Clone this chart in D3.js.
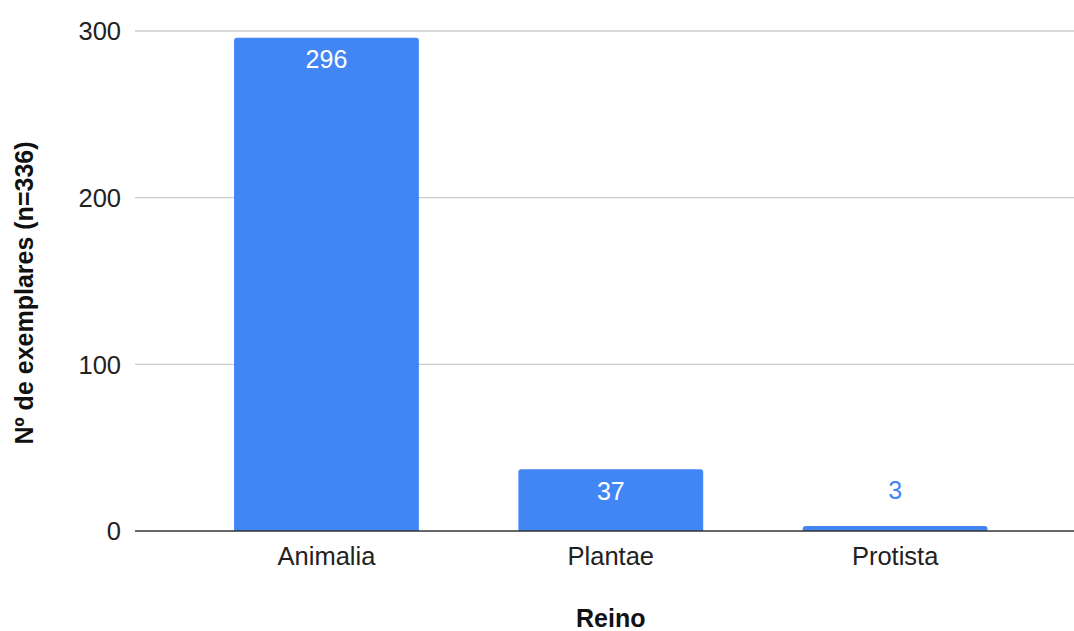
<!DOCTYPE html>
<html>
<head>
<meta charset="utf-8">
<script src="https://cdn.jsdelivr.net/npm/d3@7"></script>
<style>
  html, body { margin: 0; padding: 0; background: #fff; }
  svg { display: block; font-family: "Liberation Sans", Arial, sans-serif; }
</style>
</head>
<body>
<svg id="chart" width="1074" height="631"></svg>
<script>
// Specimens per kingdom
const categories = ["Animalia", "Plantae", "Protista"];
const counts = [296, 37, 3];
const yTicks = [0, 100, 200, 300];
const xTitle = "Reino";
const yTitle = "Nº de exemplares (n=336)";

const svg = d3.select("#chart");
const plot = { left: 135, right: 1074, top: 31, bottom: 531 };
const barColor = "#4285F4";

const x = d3.scaleBand()
  .domain(categories)
  .range([184.3, 1037.3])
  .paddingInner(0.35)
  .paddingOuter(0.175);

const y = d3.scaleLinear()
  .domain([0, 300])
  .range([plot.bottom, plot.top]);

// Horizontal gridlines
svg.append("g")
  .selectAll("line")
  .data(yTicks.filter(d => d !== 0))
  .join("line")
  .attr("x1", plot.left).attr("x2", plot.right)
  .attr("y1", d => y(d)).attr("y2", d => y(d))
  .attr("stroke", "#cccccc").attr("stroke-width", 1.3);

// Y tick labels
svg.append("g")
  .selectAll("text")
  .data(yTicks)
  .join("text")
  .attr("x", 121)
  .attr("y", d => y(d))
  .attr("dy", "0.36em")
  .attr("text-anchor", "end")
  .attr("font-size", 25.5)
  .attr("fill", "#222")
  .text(d => d);

// Bars with slightly rounded top corners
const r = 3;
function barPath(d, i) {
  const x0 = x(categories[i]), w = x.bandwidth();
  const yt = y(d), yb = y(0);
  const rr = Math.min(r, (yb - yt));
  return `M${x0},${yb} L${x0},${yt + rr} Q${x0},${yt} ${x0 + rr},${yt}
          L${x0 + w - rr},${yt} Q${x0 + w},${yt} ${x0 + w},${yt + rr} L${x0 + w},${yb} Z`;
}
svg.append("g")
  .selectAll("path")
  .data(counts)
  .join("path")
  .attr("d", barPath)
  .attr("fill", barColor);

// Baseline
svg.append("line")
  .attr("x1", plot.left).attr("x2", plot.right)
  .attr("y1", y(0)).attr("y2", y(0))
  .attr("stroke", "#333").attr("stroke-width", 1.5);

// Value labels: inside the bar when it is tall enough, otherwise above it
const fitsInside = d => (y(0) - y(d)) > 40;
svg.append("g")
  .selectAll("text")
  .data(counts)
  .join("text")
  .attr("x", (d, i) => x(categories[i]) + x.bandwidth() / 2)
  .attr("y", d => fitsInside(d) ? y(d) + 30.5 : y(d) - 27)
  .attr("text-anchor", "middle")
  .attr("font-size", 25)
  .attr("fill", d => fitsInside(d) ? "#ffffff" : barColor)
  .text(d => d);

// Category labels
svg.append("g")
  .selectAll("text")
  .data(categories)
  .join("text")
  .attr("x", d => x(d) + x.bandwidth() / 2)
  .attr("y", 565)
  .attr("text-anchor", "middle")
  .attr("font-size", 25.5)
  .attr("fill", "#222")
  .text(d => d);

// Axis titles
svg.append("text")
  .attr("x", x("Plantae") + x.bandwidth() / 2)
  .attr("y", 627)
  .attr("text-anchor", "middle")
  .attr("font-size", 25)
  .attr("font-weight", "bold")
  .attr("fill", "#111")
  .text(xTitle);

svg.append("text")
  .attr("transform", `translate(33, 293) rotate(-90)`)
  .attr("text-anchor", "middle")
  .attr("font-size", 25)
  .attr("font-weight", "bold")
  .attr("fill", "#111")
  .text(yTitle);
</script>
</body>
</html>
